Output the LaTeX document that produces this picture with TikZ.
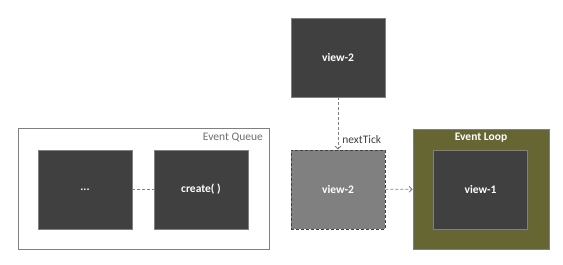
\documentclass[tikz,border=0pt]{standalone}
\usepackage{fontspec}
\setmainfont{Carlito}
\usetikzlibrary{arrows.meta,positioning}
\definecolor{BoxDark}{RGB}{64,64,64}
\definecolor{BoxEdge}{RGB}{128,128,128}
\definecolor{BoxGhost}{RGB}{128,128,128}
\definecolor{LoopOlive}{RGB}{102,102,51}
\definecolor{LabelGray}{RGB}{110,110,110}
\begin{document}
\begin{tikzpicture}[x=1pt,y=-1pt,font=\fontsize{11.5}{13}\selectfont,
  task/.style={draw=BoxEdge,line width=.8pt,fill=BoxDark,text=white,minimum width=94pt,minimum height=79pt,inner sep=0pt,font=\fontsize{11.5}{13}\selectfont\bfseries},
  link/.style={draw=BoxEdge,line width=.8pt,dash pattern=on 3pt off 2pt}]
\useasboundingbox (0,0) rectangle (563,265);
% event queue
\node[draw=BoxEdge,line width=.8pt,fill=white,minimum width=251pt,minimum height=121pt,inner sep=0pt] (queue) at (143.5,188.5){};
\node[text=LabelGray,anchor=north east,inner sep=0pt] (queuelbl) at (263,133){Event Queue};
\node[task] (dots) at (85,189.5){...};
\node[task] (create) at (201,189.5){create( )};
\draw[link] (dots) -- (create);
% next tick
\node[task] (viewtop) at (338,57.5){view-2};
\node[task,fill=BoxGhost,draw=BoxDark,dash pattern=on 3pt off 2pt] (viewnext) at (338,189.5){view-2};
\draw[link,-{Straight Barb[length=3pt,width=6pt]}] (viewtop) -- (viewnext) node[pos=.8,right=4pt,text=BoxDark,inner sep=0pt]{nextTick};
% event loop
\node[draw=BoxEdge,line width=.8pt,fill=LoopOlive,minimum width=136pt,minimum height=120pt,inner sep=0pt] (loop) at (481,189){};
\node[text=white,font=\fontsize{11.5}{13}\selectfont\bfseries,anchor=north,inner sep=0pt] (looplbl) at (481,133){Event Loop};
\node[task] (viewone) at (480.5,189.5){view-1};
\draw[link,-{Straight Barb[length=3pt,width=6pt]}] (viewnext) -- (loop);
\end{tikzpicture}
\end{document}
